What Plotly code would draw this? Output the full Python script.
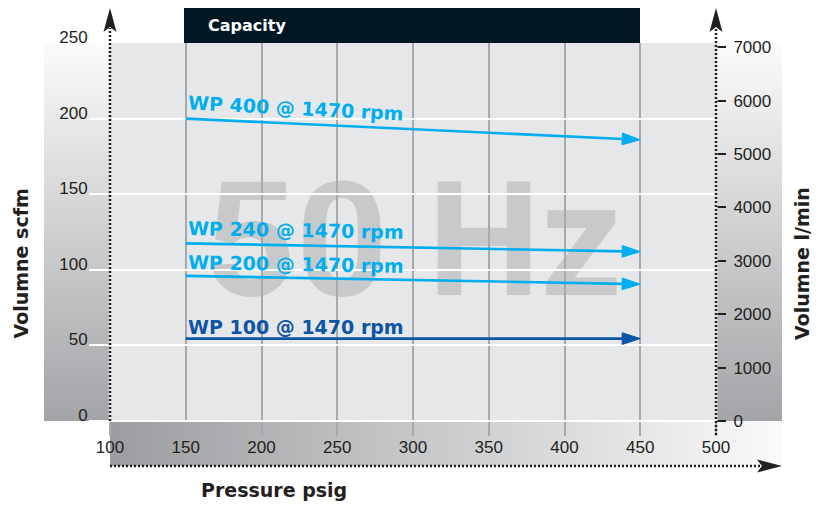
import base64
import plotly.graph_objects as go

# ---------------- data ----------------
pressure_ticks = [100, 150, 200, 250, 300, 350, 400, 450, 500]
scfm_ticks = [0, 50, 100, 150, 200, 250]
lmin_ticks = [0, 1000, 2000, 3000, 4000, 5000, 6000, 7000]

series_names = ["WP 400 @ 1470 rpm", "WP 240 @ 1470 rpm", "WP 200 @ 1470 rpm", "WP 100 @ 1470 rpm"]
series_pressure = [[150, 450], [150, 450], [150, 450], [150, 450]]
series_scfm = [[200, 186], [117.5, 112], [96, 90.5], [54.5, 54.5]]
series_colors = ["#00aeef", "#00aeef", "#00aeef", "#0a56a5"]
label_angles = [3, 1, 1, 0]
label_yshift = [10.5, 13.5, 12, 12]

SCFM_TO_LMIN = 28.3168

# ---------------- helpers (page pixel -> paper for decorations) ----------------
PX0, PX1, PY0, PY1 = 110, 716, 421, 43
def px(x):
    return (x - PX0) / (PX1 - PX0)
def py(y):
    return (PY0 - y) / (PY0 - PY1)

def svg_grad(c1, c2, horizontal):
    x2, y2 = ("1", "0") if horizontal else ("0", "1")
    svg = (
        '<svg xmlns="http://www.w3.org/2000/svg" width="100" height="100" '
        'viewBox="0 0 100 100" preserveAspectRatio="none">'
        f'<defs><linearGradient id="g" x1="0" y1="0" x2="{x2}" y2="{y2}">'
        f'<stop offset="0" stop-color="{c1}"/><stop offset="1" stop-color="{c2}"/>'
        '</linearGradient></defs><rect width="100" height="100" fill="url(#g)"/></svg>'
    )
    return "data:image/svg+xml;base64," + base64.b64encode(svg.encode()).decode()

fig = go.Figure()

for name, xs, ys, col in zip(series_names, series_pressure, series_scfm, series_colors):
    fig.add_trace(go.Scatter(
        x=xs, y=ys, mode="lines+markers", name=name,
        line=dict(color=col, width=2.6),
        marker=dict(symbol="arrow", size=[0, 19], color=col, angleref="previous",
                    opacity=1, line=dict(width=1, color=col)),
        showlegend=False, hoverinfo="skip",
    ))

# dummy trace to activate right axis
fig.add_trace(go.Scatter(x=[None], y=[None], yaxis="y2", showlegend=False, hoverinfo="skip"))

TXT = "#231f20"
tickfont = dict(family="Liberation Sans, Arial, sans-serif", size=17, color=TXT)

# page has an 8px body margin: figure is 816x498 placed at (8,8)
fig.update_layout(
    width=816, height=498, autosize=False,
    margin=dict(l=102, r=108, t=35, b=85, pad=0),
    paper_bgcolor="white", plot_bgcolor="#e6e7e8",
    xaxis=dict(range=[100, 500], tickvals=pressure_ticks, showgrid=True,
               gridcolor="#a7a9ac", gridwidth=2, zeroline=False, showline=False,
               ticks="outside", ticklen=14, tickwidth=2, tickcolor="#a7a9ac",
               tickfont=tickfont, ticklabelstandoff=-3),
    yaxis=dict(range=[0, 250], tickvals=scfm_ticks, showgrid=True,
               gridcolor="white", gridwidth=2, zeroline=True, zerolinecolor="white",
               zerolinewidth=2, showline=False, ticks="outside", ticklen=20,
               tickwidth=2, tickcolor="white", tickfont=tickfont, ticklabelshift=-6,
               ticklabelstandoff=-2),
    yaxis2=dict(range=[0, 250 * SCFM_TO_LMIN], tickvals=lmin_ticks, overlaying="y",
                side="right", showgrid=False, zeroline=False, showline=False,
                ticks="outside", ticklen=9, tickwidth=2, tickcolor=TXT,
                tickfont=tickfont, ticklabelstandoff=4),
)

# gradient bands
fig.add_layout_image(source=svg_grad("#fbfbfb", "#a3a4a7", False), xref="paper", yref="paper",
                     x=px(44), y=1, sizex=px(110) - px(44), sizey=1, sizing="stretch",
                     xanchor="left", yanchor="top", layer="below")
fig.add_layout_image(source=svg_grad("#fbfbfb", "#a3a4a7", False), xref="paper", yref="paper",
                     x=1, y=1, sizex=px(782) - px(716), sizey=1, sizing="stretch",
                     xanchor="left", yanchor="top", layer="below")
fig.add_layout_image(source=svg_grad("#9c9da0", "#fafafa", True), xref="paper", yref="paper",
                     x=0, y=0, sizex=px(782), sizey=py(421) - py(466), sizing="stretch",
                     xanchor="left", yanchor="top", layer="below")

# watermark behind grid
fig.add_shape(type="rect", xref="paper", yref="paper", x0=px(200), x1=px(626),
              y0=py(318), y1=py(138), line=dict(width=0), fillcolor="rgba(0,0,0,0)",
              layer="below",
              label=dict(text="50 Hz", textposition="middle center",
                         font=dict(family="Roboto, Liberation Sans Narrow, sans-serif",
                                   size=160, color="#c8c9cb", weight="bold")))

# title box
fig.add_shape(type="rect", xref="paper", yref="paper", x0=px(184), x1=px(640),
              y0=py(43), y1=py(8), line=dict(width=0), fillcolor="#001824", layer="above")
fig.add_annotation(text="<b>Capacity</b>", xref="paper", yref="paper", x=px(206), y=py(25.5),
                   xanchor="left", yanchor="middle", showarrow=False,
                   font=dict(family="DejaVu Sans", size=16, color="white"))

# dotted axes lines (cover grid first)
fig.add_shape(type="line", xref="paper", yref="paper", x0=0, x1=0, y0=0, y1=1,
              line=dict(color="#e6e7e8", width=3))
fig.add_shape(type="line", xref="paper", yref="paper", x0=1, x1=1, y0=0, y1=1,
              line=dict(color="#e6e7e8", width=3))
dot = dict(color=TXT, width=2.5, dash="2px,2px")
fig.add_shape(type="line", xref="paper", yref="paper", x0=0, x1=0, y0=0, y1=py(28), line=dot)
fig.add_shape(type="line", xref="paper", yref="paper", x0=1, x1=1, y0=py(435), y1=py(28), line=dot)
fig.add_shape(type="line", xref="paper", yref="paper", x0=0, x1=px(760), y0=py(466), y1=py(466), line=dot)

def arrow_up(xc):
    pts = [(xc, 8), (xc - 6.5, 32), (xc, 27), (xc + 6.5, 32)]
    return "M " + " L ".join(f"{px(a):.5f},{py(b):.5f}" for a, b in pts) + " Z"
def arrow_right(yc):
    pts = [(782, yc), (757, yc - 6.5), (762, yc), (757, yc + 6.5)]
    return "M " + " L ".join(f"{px(a):.5f},{py(b):.5f}" for a, b in pts) + " Z"
for p in [arrow_up(110), arrow_up(716), arrow_right(466)]:
    fig.add_shape(type="path", xref="paper", yref="paper", path=p,
                  fillcolor=TXT, line=dict(width=0))

# series labels
for name, xs, ys, col, ang, ysh in zip(series_names, series_pressure, series_scfm,
                                       series_colors, label_angles, label_yshift):
    fig.add_annotation(text=f"<b>{name}</b>", x=xs[0], y=ys[0], xref="x", yref="y",
                       xanchor="left", yanchor="middle", yshift=ysh, textangle=ang,
                       showarrow=False, font=dict(family="DejaVu Sans", size=19, color=col))

# axis titles
title_font = dict(family="DejaVu Sans", size=19, color=TXT)
fig.add_annotation(text="<b>Pressure psig</b>", xref="paper", yref="paper", x=px(274), y=py(490),
                   xanchor="center", yanchor="middle", showarrow=False, font=title_font)
fig.add_annotation(text="<b>Volumne scfm</b>", xref="paper", yref="paper", x=px(20.5), y=py(264),
                   xanchor="center", yanchor="middle", showarrow=False, textangle=-90, font=title_font)
fig.add_annotation(text="<b>Volumne l/min</b>", xref="paper", yref="paper", x=px(802), y=py(264),
                   xanchor="center", yanchor="middle", showarrow=False, textangle=-90, font=title_font)

fig.write_html("out.html")
